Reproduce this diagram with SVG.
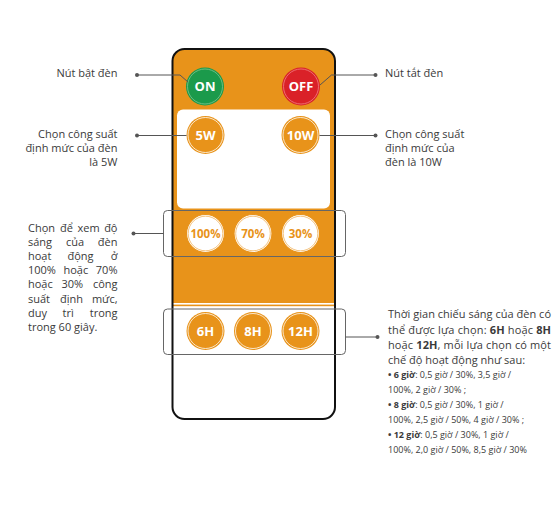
<svg xmlns="http://www.w3.org/2000/svg" width="558" height="512" viewBox="0 0 558 512">
<style>
.lbl{font-family:"Open Sans","Noto Sans",sans-serif;font-size:11px;fill:#3a3a3a}
.sm{font-family:"Open Sans","Noto Sans",sans-serif;font-size:9px;fill:#3a3a3a}
.btn{font-family:"Open Sans","Noto Sans",sans-serif;font-weight:bold;font-size:13px;fill:#fff;text-anchor:middle}
.pct{font-family:"Open Sans","Noto Sans",sans-serif;font-weight:bold;font-size:11.5px;fill:#e8931a;text-anchor:middle}
.ln{stroke:#555;stroke-width:1;fill:none}
.dot{fill:#555}
.brk{fill:none;stroke:#666;stroke-width:1}
.oc{fill:#e8931a}
.ring{fill:none;stroke:#fff;stroke-width:0.9;opacity:0.85}
.wc{fill:#fff;stroke:#e8931a;stroke-width:1.2}
.wring{fill:none;stroke:#f0b35c;stroke-width:0.8}
</style>
<rect width="558" height="512" fill="#fff"/>
<g id="remote">
<rect x="172.5" y="49" width="162.5" height="370" rx="12" fill="#fff"/>
<path d="M172.5 303 V61 a12 12 0 0 1 12 -12 H323 a12 12 0 0 1 12 12 V303 Z" fill="#e8931a"/>
<rect x="172.5" y="304.6" width="162.5" height="1.6" fill="#e8931a"/>
<rect x="177" y="109.5" width="153" height="99" rx="6" fill="#fff"/>
<rect x="172.5" y="49" width="162.5" height="370" rx="12" fill="none" stroke="#111" stroke-width="2"/>
</g>
<g id="brackets">
<rect class="brk" x="163.5" y="210.5" width="182" height="46" rx="4"/>
<rect class="brk" x="163.5" y="309" width="182" height="45.5" rx="4"/>
</g>
<g id="btn-on"><circle cx="205" cy="86.5" r="19" fill="#1b9a4b"/><circle cx="205" cy="86.5" r="17.5" fill="none" stroke="#7fc58f" stroke-width="0.8"/><text class="btn" x="205" y="91.3">ON</text></g>
<g id="btn-off"><circle cx="301" cy="86.5" r="19" fill="#da2128"/><circle cx="301" cy="86.5" r="17.5" fill="none" stroke="#f08080" stroke-width="0.8"/><text class="btn" x="301" y="91.3">OFF</text></g>
<g id="btn-5w"><circle class="oc" cx="205.5" cy="135" r="19"/><circle class="ring" cx="205.5" cy="135" r="17.5"/><text class="btn" x="205.5" y="139.7">5W</text></g>
<g id="btn-10w"><circle class="oc" cx="300.5" cy="135" r="19"/><circle class="ring" cx="300.5" cy="135" r="17.5"/><text class="btn" x="300.5" y="139.7">10W</text></g>
<g id="btn-100"><circle class="wc" cx="205.5" cy="233.5" r="19"/><circle class="wring" cx="205.5" cy="233.5" r="17.3"/><text class="pct" x="205.5" y="237.8">100%</text></g>
<g id="btn-70"><circle class="wc" cx="253" cy="233.5" r="19"/><circle class="wring" cx="253" cy="233.5" r="17.3"/><text class="pct" x="253" y="237.8">70%</text></g>
<g id="btn-30"><circle class="wc" cx="300.5" cy="233.5" r="19"/><circle class="wring" cx="300.5" cy="233.5" r="17.3"/><text class="pct" x="300.5" y="237.8">30%</text></g>
<g id="btn-6h"><circle class="oc" cx="205.5" cy="331" r="19"/><circle class="ring" cx="205.5" cy="331" r="17.5"/><text class="btn" x="205.5" y="335.7">6H</text></g>
<g id="btn-8h"><circle class="oc" cx="253" cy="331" r="19"/><circle class="ring" cx="253" cy="331" r="17.5"/><text class="btn" x="253" y="335.7">8H</text></g>
<g id="btn-12h"><circle class="oc" cx="300.5" cy="331" r="19"/><circle class="ring" cx="300.5" cy="331" r="17.5"/><text class="btn" x="300.5" y="335.7">12H</text></g>
<g id="connectors">
<path class="ln" d="M137 75 H180 L188 82"/><circle class="dot" cx="137" cy="75" r="2"/>
<path class="ln" d="M320 85 L331.5 75 H375.5"/><circle class="dot" cx="375.5" cy="75" r="2"/>
<path class="ln" d="M137 135.5 H186.5"/><circle class="dot" cx="137" cy="135.5" r="2"/>
<path class="ln" d="M319.5 135.5 H375.5"/><circle class="dot" cx="375.5" cy="135.5" r="2"/>
<path class="ln" d="M133.5 233.5 H163.5"/><circle class="dot" cx="133.5" cy="233.5" r="2"/>
<path class="ln" d="M345.5 337 H377.5"/><circle class="dot" cx="377.5" cy="337" r="2"/>
</g>
<g id="label-on"><text class="lbl" x="117.5" y="77" text-anchor="end">Nút bật đèn</text></g>
<g id="label-off"><text class="lbl" x="385" y="77">Nút tắt đèn</text></g>
<g id="label-5w">
<text class="lbl" x="117.5" y="138" text-anchor="end">Chọn công suất</text>
<text class="lbl" x="117.5" y="152" text-anchor="end">định mức của đèn</text>
<text class="lbl" x="117.5" y="166" text-anchor="end">là 5W</text>
</g>
<g id="label-10w">
<text class="lbl" x="385" y="138">Chọn công suất</text>
<text class="lbl" x="385" y="152">định mức của</text>
<text class="lbl" x="385" y="166">đèn là 10W</text>
</g>
<g id="label-pct">
<text class="lbl" y="232"><tspan x="28">Chọn</tspan><tspan x="60">để</tspan><tspan x="77.5">xem</tspan><tspan x="117.5" text-anchor="end">độ</tspan></text>
<text class="lbl" y="246.1"><tspan x="28">sáng</tspan><tspan x="66">của</tspan><tspan x="117.5" text-anchor="end">đèn</tspan></text>
<text class="lbl" y="260.2"><tspan x="28">hoạt</tspan><tspan x="67.5">động</tspan><tspan x="117.5" text-anchor="end">ở</tspan></text>
<text class="lbl" y="274.3"><tspan x="28">100%</tspan><tspan x="63.5">hoặc</tspan><tspan x="117.5" text-anchor="end">70%</tspan></text>
<text class="lbl" y="288.4"><tspan x="28">hoặc</tspan><tspan x="61.5">30%</tspan><tspan x="117.5" text-anchor="end">công</tspan></text>
<text class="lbl" y="302.5"><tspan x="28">suất</tspan><tspan x="60">định</tspan><tspan x="117.5" text-anchor="end">mức,</tspan></text>
<text class="lbl" y="316.6"><tspan x="28">duy</tspan><tspan x="62.5">trì</tspan><tspan x="117.5" text-anchor="end">trong</tspan></text>
<text class="lbl" x="28" y="330.7">trong 60 giây.</text>
</g>
<g id="label-time">
<text class="lbl" x="388" y="318" textLength="163" lengthAdjust="spacing">Thời gian chiếu sáng của đèn có</text>
<text class="lbl" x="388" y="333.5" textLength="163" lengthAdjust="spacing">thể được lựa chọn: <tspan font-weight="bold">6H</tspan> hoặc <tspan font-weight="bold">8H</tspan></text>
<text class="lbl" x="388" y="349" textLength="163" lengthAdjust="spacing">hoặc <tspan font-weight="bold">12H</tspan>, mỗi lựa chọn có một</text>
<text class="lbl" x="388" y="364">chế độ hoạt động như sau:</text>
<text class="sm" x="388" y="377.5"><tspan font-weight="bold">• 6 giờ</tspan>: 0,5 giờ / 30%, 3,5 giờ /</text>
<text class="sm" x="388" y="392.5">100%, 2 giờ / 30% ;</text>
<text class="sm" x="388" y="407.5"><tspan font-weight="bold">• 8 giờ</tspan>: 0,5 giờ / 30%, 1 giờ /</text>
<text class="sm" x="388" y="422.5">100%, 2,5 giờ / 50%, 4 giờ / 30% ;</text>
<text class="sm" x="388" y="437.5"><tspan font-weight="bold">• 12 giờ</tspan>: 0,5 giờ / 30%, 1 giờ /</text>
<text class="sm" x="388" y="452.5">100%, 2,0 giờ / 50%, 8,5 giờ / 30%</text>
</g>
</svg>
